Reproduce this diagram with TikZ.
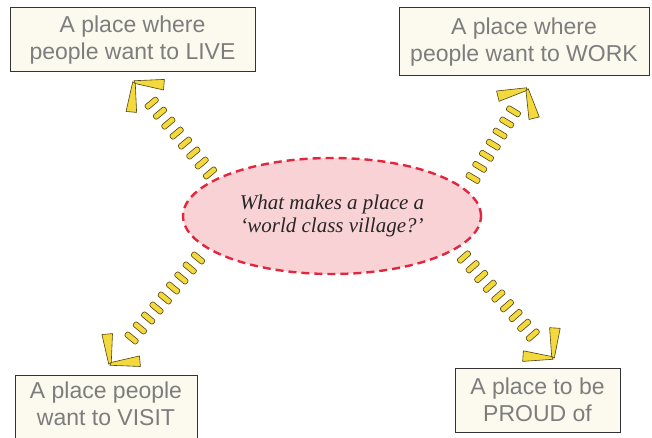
\documentclass[tikz,border=0pt]{standalone}
\usepackage{fontspec}
\setmainfont{Liberation Serif}
\newfontfamily\boxfont{Liberation Sans}
\usetikzlibrary{shapes.geometric,decorations.markings}
\definecolor{cream}{HTML}{FCFAEE}
\definecolor{boxline}{HTML}{333333}
\definecolor{boxtext}{HTML}{7D7D7D}
\definecolor{ellfill}{HTML}{F9D2D5}
\definecolor{ellline}{HTML}{E3263E}
\definecolor{railyellow}{HTML}{F4D93C}
\definecolor{tieline}{HTML}{4F4216}
\tikzset{
  boxtextstyle/.style={text=boxtext, align=center, inner sep=0pt,
    font=\boxfont\fontsize{23}{27.5}\selectfont},
  placebox/.style={draw=boxline, line width=1pt, fill=cream, boxtextstyle},
  question/.style={ellipse, draw=ellline, line width=2.4pt, dash pattern=on 8pt off 5pt,
    fill=ellfill, minimum width=298pt, minimum height=116pt, inner sep=0pt, align=center,
    text=black!85, font=\itshape\fontsize{21}{23.5}\selectfont},
  tie/.style={fill=railyellow, draw=tieline, line width=0.6pt, rounded corners=2pt},
  chevron/.style={fill=railyellow, draw=tieline, line width=0.6pt, line join=round},
  railties/.style={postaction={decorate, decoration={markings,
     mark=between positions 0 and -#1 step 13pt with
       {\path[tie] (-2.8pt,-7.5pt) rectangle (2.8pt,7.5pt);}}}},
  railhead/.style={postaction={decorate, decoration={markings,
     mark=at position 1 with
       {\path[chevron] (1pt,0.8pt) -- (-17.5pt,25pt) -- (-25pt,17.5pt) -- (-2pt,0pt) -- cycle;
        \path[chevron] (1pt,-0.8pt) -- (-17.5pt,-25pt) -- (-25pt,-17.5pt) -- (-2pt,0pt) -- cycle;}}}}
}
\begin{document}
\begin{tikzpicture}[x=1pt,y=-1pt]
\useasboundingbox (0,0) rectangle (652,438);
\clip (0,0) rectangle (652,438);
\fill[white] (0,0) rectangle (652,438);

\node[placebox, minimum width=245pt, minimum height=64pt] (live) at (132.5,40)
  {A place where\\people want to LIVE};
\node[placebox, minimum width=250pt, minimum height=68pt] (work) at (524,42)
  {A place where\\people want to WORK};
\node[draw=boxline, line width=1pt, fill=cream, inner sep=0pt,
  minimum width=182pt, minimum height=80pt] (visit) at (106,415) {};
\node[boxtextstyle] (visittext) at (106,404) {A place people\\want to VISIT};
\node[placebox, minimum width=165pt, minimum height=64pt] (proud) at (537.5,400)
  {A place to be\\PROUD of};

\node[question] (q) at (332,216) {What makes a place a\\`world class village?'};

\coordinate (t1) at (210,173); \coordinate (h1) at (134,82);
\coordinate (t2) at (473,178); \coordinate (h2) at (527,89);
\coordinate (t3) at (198,258); \coordinate (h3) at (110,364);
\coordinate (t4) at (464,257); \coordinate (h4) at (553,358);

\path[railties=22pt, railhead] (t1) -- (h1);
\path[railties=17pt, railhead] (t2) -- (h2);
\path[railties=24pt, railhead] (t3) -- (h3);
\path[railties=23pt, railhead] (t4) -- (h4);
\end{tikzpicture}
\end{document}
